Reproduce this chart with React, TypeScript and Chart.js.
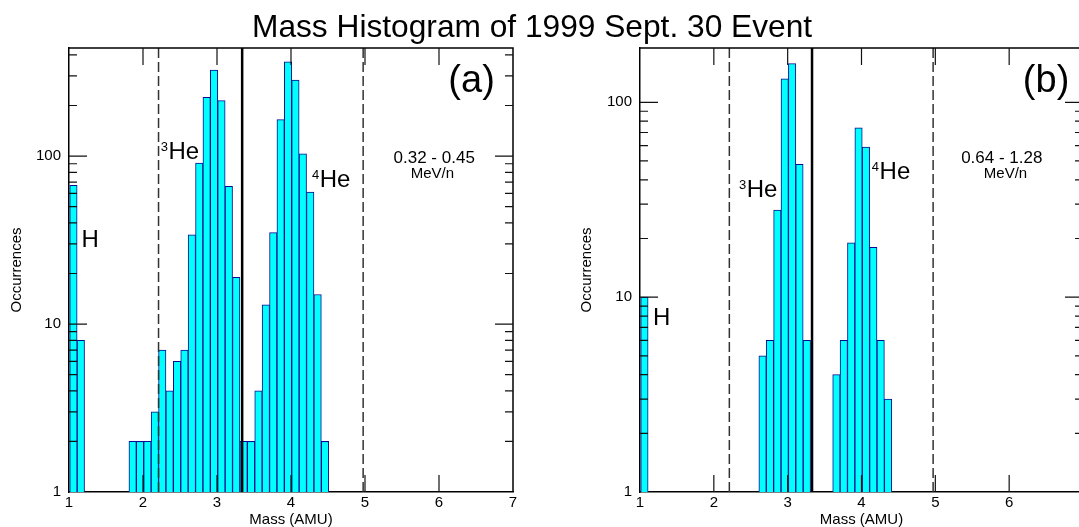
import React, { useEffect, useRef } from 'react';
import { Chart, registerables } from 'chart.js';

Chart.register(...registerables);

const FONT = '"Liberation Sans", Arial, Helvetica, sans-serif';
Chart.defaults.font.family = FONT;

// ---- Data (bin centres in AMU, counts) ----
const massBinsA = [1.06, 1.16, 1.86, 1.96, 2.06, 2.16, 2.26, 2.36, 2.46, 2.56, 2.66, 2.76, 2.86, 2.96, 3.06, 3.16, 3.26, 3.36, 3.46, 3.56, 3.66, 3.76, 3.86, 3.96, 4.06, 4.16, 4.26, 4.36, 4.46];
const countsA = [67, 8, 2, 2, 2, 3, 7, 4, 6, 7, 34, 91, 224, 325, 214, 66, 19, 2, 2, 4, 13, 35, 165, 364, 283, 103, 61, 15, 2];

const massBinsB = [1.06, 2.66, 2.76, 2.86, 2.96, 3.06, 3.16, 3.26, 3.66, 3.76, 3.86, 3.96, 4.06, 4.16, 4.26, 4.36];
const countsB = [10, 5, 6, 28, 132, 158, 48, 6, 4, 6, 19, 74, 59, 18, 6, 3];

const dashedCutsA = [2.21, 4.975];
const solidCutsA = [3.34];
const dashedCutsB = [2.21, 4.97];
const solidCutsB = [3.33];

const xTickLabels = [1, 2, 3, 4, 5, 6, 7];
const xInnerTicks = [2, 3, 4, 5, 6];
const yTickLabels = [1, 10, 100];

const yMaxA = 440;
const yMaxB = 190;

const energyA = ['0.32 - 0.45', 'MeV/n'];
const energyB = ['0.64 - 1.28', 'MeV/n'];

type Txt = { text: string; m: number; v: number; size: number; align: CanvasTextAlign };
type Iso = { sup: string; text: string; m: number; v: number };

const textA: Txt[] = [
  { text: 'H', m: 1.17, v: 28.7, size: 24, align: 'left' },
  { text: '(a)', m: 6.44, v: 240, size: 38, align: 'center' },
  { text: energyA[0], m: 5.935, v: 91.2, size: 17, align: 'center' },
  { text: energyA[1], m: 5.91, v: 74.3, size: 15, align: 'center' },
];
const isoA: Iso[] = [
  { sup: '3', text: 'He', m: 2.24, v: 95.6 },
  { sup: '4', text: 'He', m: 4.284, v: 65.1 },
];
const textB: Txt[] = [
  { text: 'H', m: 1.176, v: 7.18, size: 24, align: 'left' },
  { text: '(b)', m: 6.5, v: 113, size: 38, align: 'center' },
  { text: energyB[0], m: 5.9, v: 49.0, size: 17, align: 'center' },
  { text: energyB[1], m: 5.95, v: 40.7, size: 15, align: 'center' },
];
const isoB: Iso[] = [
  { sup: '3', text: 'He', m: 2.34, v: 32.7 },
  { sup: '4', text: 'He', m: 4.14, v: 40.2 },
];

function makeOverlay(dashed: number[], solid: number[], texts: Txt[], isos: Iso[]) {
  return {
    id: 'overlay',
    afterDatasetsDraw(chart: any) {
      const { ctx, chartArea, scales } = chart;
      const { left, right, top, bottom } = chartArea;
      const x = scales.x;
      const y = scales.y;
      ctx.save();
      // cut lines
      ctx.strokeStyle = '#333';
      ctx.lineWidth = 1.5;
      ctx.setLineDash([10, 4]);
      for (const c of dashed) {
        const px = x.getPixelForValue(c);
        ctx.beginPath();
        ctx.moveTo(px, top);
        ctx.lineTo(px, bottom);
        ctx.stroke();
      }
      ctx.setLineDash([]);
      ctx.strokeStyle = '#000';
      ctx.lineWidth = 2.5;
      for (const c of solid) {
        const px = x.getPixelForValue(c);
        ctx.beginPath();
        ctx.moveTo(px, top);
        ctx.lineTo(px, bottom);
        ctx.stroke();
      }
      // frame top/right
      ctx.lineWidth = 1.5;
      ctx.strokeStyle = '#000';
      ctx.beginPath();
      ctx.moveTo(left, top);
      ctx.lineTo(right, top);
      ctx.lineTo(right, bottom);
      ctx.stroke();
      // inner ticks
      ctx.lineWidth = 1.2;
      ctx.strokeStyle = '#111';
      ctx.beginPath();
      for (const t of xInnerTicks) {
        const px = x.getPixelForValue(t);
        ctx.moveTo(px, bottom);
        ctx.lineTo(px, bottom - 17);
        ctx.moveTo(px, top);
        ctx.lineTo(px, top + 17);
      }
      for (let d = 0; d < 4; d++) {
        for (let k = 1; k <= 9; k++) {
          const v = k * Math.pow(10, d);
          if (v <= y.min || v > y.max) continue;
          const py = y.getPixelForValue(v);
          const len = k === 1 ? 18 : 8;
          ctx.moveTo(left, py);
          ctx.lineTo(left + len, py);
          ctx.moveTo(right, py);
          ctx.lineTo(right - len, py);
        }
      }
      ctx.stroke();
      // texts
      ctx.fillStyle = '#000';
      ctx.textBaseline = 'alphabetic';
      for (const t of texts) {
        ctx.font = `${t.size}px ${FONT}`;
        ctx.textAlign = t.align;
        ctx.fillText(t.text, x.getPixelForValue(t.m), y.getPixelForValue(t.v));
      }
      ctx.textAlign = 'left';
      for (const s of isos) {
        const px = x.getPixelForValue(s.m);
        const py = y.getPixelForValue(s.v);
        ctx.font = `13px ${FONT}`;
        ctx.fillText(s.sup, px, py - 8);
        const w = ctx.measureText(s.sup).width;
        ctx.font = `24px ${FONT}`;
        ctx.fillText(s.text, px + w + 0.5, py);
      }
      ctx.restore();
    },
  };
}

function buildConfig(bins: number[], counts: number[], yMax: number, yWidth: number, titlePad: number, overlay: any) {
  return {
    type: 'bar' as const,
    data: {
      datasets: [
        {
          data: bins.map((m, i) => ({ x: m, y: counts[i] })),
          backgroundColor: '#00FFFF',
          borderColor: '#0a0a90',
          borderWidth: 1,
          barPercentage: 1,
          categoryPercentage: 1,
        },
      ],
    },
    options: {
      responsive: false,
      animation: false as const,
      devicePixelRatio: 1,
      layout: { padding: { top: 48, right: 27, left: 0, bottom: 0 } },
      plugins: { legend: { display: false }, tooltip: { enabled: false } },
      scales: {
        x: {
          type: 'linear' as const,
          min: 1,
          max: 7,
          offset: false,
          grid: { display: false, drawTicks: false, offset: false },
          border: { display: true, color: '#000', width: 1.5 },
          ticks: {
            stepSize: 1,
            autoSkip: false,
            maxRotation: 0,
            color: '#000',
            font: { size: 15 },
            padding: 2,
            callback: (v: any) => (xTickLabels.includes(Number(v)) ? String(v) : ''),
          },
          title: { display: true, text: 'Mass (AMU)', color: '#000', font: { size: 15, lineHeight: 1 }, padding: 0 },
          afterFit: (s: any) => {
            s.height = 35;
          },
        },
        y: {
          type: 'logarithmic' as const,
          min: 1,
          max: yMax,
          grid: { display: false, drawTicks: false },
          border: { display: true, color: '#000', width: 1.5 },
          ticks: {
            autoSkip: false,
            color: '#000',
            font: { size: 15 },
            padding: 8,
            callback: (v: any) => {
              const n = Number(v);
              return yTickLabels.some((t) => Math.abs(t - n) < 1e-6) ? String(Math.round(n)) : '';
            },
          },
          title: { display: true, text: 'Occurrences', color: '#000', font: { size: 15, lineHeight: 1.2 }, padding: { top: titlePad, bottom: 0 } },
          afterFit: (s: any) => {
            s.width = yWidth;
          },
        },
      },
    },
    plugins: [overlay],
  };
}

function Panel(props: { left: number; width: number; cfg: any }) {
  const ref = useRef<HTMLCanvasElement | null>(null);
  useEffect(() => {
    if (!ref.current) return;
    const chart = new Chart(ref.current, props.cfg);
    return () => chart.destroy();
  }, []);
  return (
    <canvas
      ref={ref}
      width={props.width}
      height={527}
      style={{ position: 'absolute', left: props.left, top: 0, width: props.width, height: 527, display: 'block' }}
    />
  );
}

export default function App() {
  const cfgA = buildConfig(massBinsA, countsA, yMaxA, 69, 8, makeOverlay(dashedCutsA, solidCutsA, textA, isoA));
  const cfgB = buildConfig(massBinsB, countsB, yMaxB, 100, 38, makeOverlay(dashedCutsB, solidCutsB, textB, isoB));
  return (
    <div style={{ position: 'absolute', left: 0, top: 0, width: 1079, height: 527, overflow: 'hidden', background: '#fff' }}>
      <Panel left={0} width={540} cfg={cfgA} />
      <Panel left={540} width={570} cfg={cfgB} />
      <div
        style={{
          position: 'absolute',
          left: 252,
          top: 10,
          fontFamily: FONT,
          fontSize: 31.7,
          lineHeight: '32px',
          whiteSpace: 'nowrap',
          color: '#000',
        }}
      >
        Mass Histogram of 1999 Sept. 30 Event
      </div>
    </div>
  );
}
